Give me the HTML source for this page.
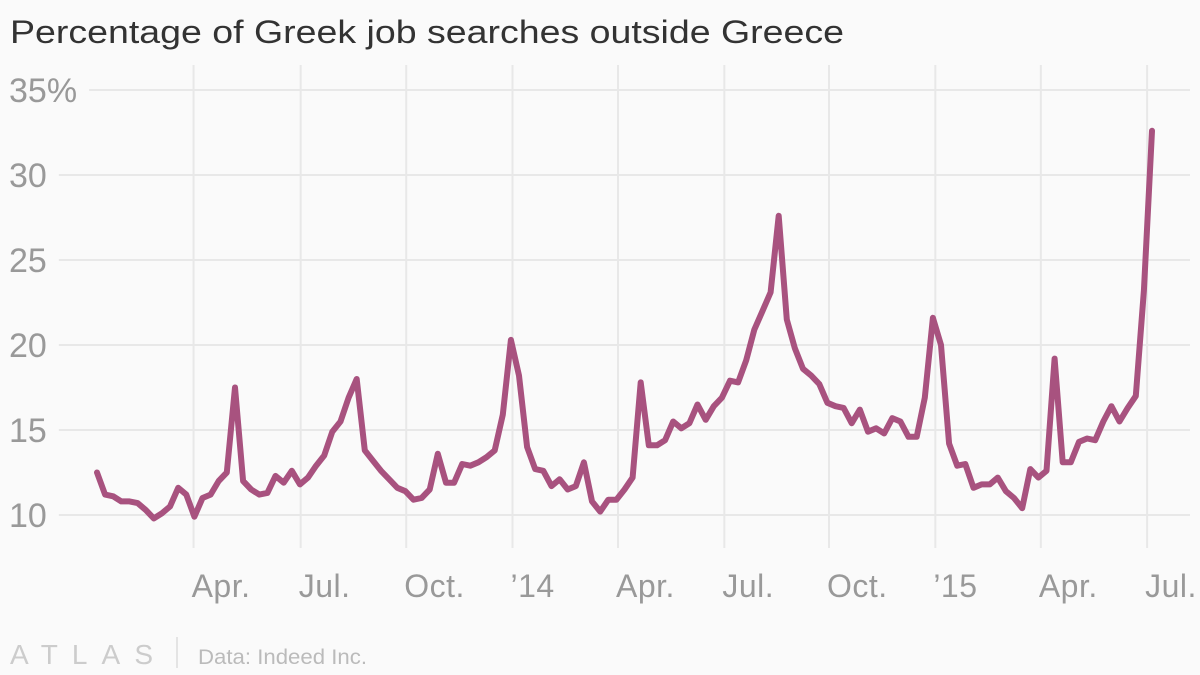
<!DOCTYPE html>
<html><head><meta charset="utf-8"><style>
body{margin:0;background:#fff;}
svg{display:block;font-family:"Liberation Sans",sans-serif;}
</style></head><body>
<svg width="1200" height="675" viewBox="0 0 1200 675">
<rect width="1200" height="675" fill="#fafafa"/>
<text x="10" y="43" font-size="32" fill="#333" textLength="834" lengthAdjust="spacingAndGlyphs">Percentage of Greek job searches outside Greece</text>
<g id="grid"></g>
<g id="xlabels"></g>
<g id="ylabels"></g>
<path id="line" fill="none" stroke="#a8527f" stroke-width="6" stroke-linejoin="round" stroke-linecap="round"/>
<text x="10" y="664" font-size="28" fill="#ccc" textLength="143" lengthAdjust="spacing" font-weight="300">ATLAS</text>
<line x1="177" y1="637" x2="177" y2="668" stroke="#ddd" stroke-width="1.5"/>
<text x="198" y="664" font-size="21" fill="#bbb" textLength="169" lengthAdjust="spacingAndGlyphs">Data: Indeed Inc.</text>
</svg>
<script>
const values=[12.5,11.2,11.1,10.8,10.8,10.7,10.3,9.8,10.1,10.5,
11.6,11.2,9.9,11.0,11.2,12.0,12.5,17.5,12.0,11.5,
11.2,11.3,12.3,11.9,12.6,11.8,12.2,12.9,13.5,14.9,
15.5,16.9,18.0,13.8,13.2,12.6,12.1,11.6,11.4,10.9,
11.0,11.5,13.6,11.9,11.9,13.0,12.9,13.1,13.4,13.8,
15.9,20.3,18.2,14.0,12.7,12.6,11.7,12.1,11.5,11.7,
13.1,10.8,10.2,10.9,10.9,11.5,12.2,17.8,14.1,14.1,
14.4,15.5,15.1,15.4,16.5,15.6,16.4,16.9,17.9,17.8,
19.1,20.9,22.0,23.1,27.6,21.5,19.8,18.6,18.2,17.7,
16.6,16.4,16.3,15.4,16.2,14.9,15.1,14.8,15.7,15.5,
14.6,14.6,16.9,21.6,20.0,14.2,12.9,13.0,11.6,11.8,
11.8,12.2,11.4,11.0,10.4,12.7,12.2,12.6,19.2,13.1,
13.1,14.3,14.5,14.4,15.5,16.4,15.5,16.3,17.0,23.2,
32.6];
const yTicks=[10,15,20,25,30,35];
const yTickLabels=["10","15","20","25","30","35%"];
const xTickLabels=["Apr.","Jul.","Oct.","\u201914","Apr.","Jul.","Oct.","\u201915","Apr.","Jul."];
const xTickIndex=[11.9,25.1,38.1,51.2,64.2,77.3,90.2,103.3,116.3,129.4];
const NS="http://www.w3.org/2000/svg";
const x=i=>97+i*(1152-97)/130;
const y=v=>515-(v-10)*17;
const grid=document.getElementById('grid'),xl=document.getElementById('xlabels'),yl=document.getElementById('ylabels');
xTickIndex.forEach((t,k)=>{
 const l=document.createElementNS(NS,'line');
 l.setAttribute('x1',x(t));l.setAttribute('x2',x(t));l.setAttribute('y1',65);l.setAttribute('y2',548);
 l.setAttribute('stroke','#e8e8e8');l.setAttribute('stroke-width','2');
 
 
 grid.appendChild(l);
 const tx=document.createElementNS(NS,'text');
 tx.setAttribute('x',x(t)-2);tx.setAttribute('y',597);tx.setAttribute('font-size','32');tx.setAttribute('fill','#999');
 tx.setAttribute('letter-spacing','0.5');
 tx.textContent=xTickLabels[k];
 
 
 xl.appendChild(tx);
});
yTicks.forEach((t,k)=>{
 const tx=document.createElementNS(NS,'text');
 tx.setAttribute('x',9);tx.setAttribute('y',y(t)+12);tx.setAttribute('font-size','34');tx.setAttribute('fill','#999');
 tx.textContent=yTickLabels[k];
 
 
 yl.appendChild(tx);
 const w=tx.getComputedTextLength();
 const l=document.createElementNS(NS,'line');
 l.setAttribute('x1',9+w+12);l.setAttribute('x2',1190);l.setAttribute('y1',y(t));l.setAttribute('y2',y(t));
 l.setAttribute('stroke','#e8e8e8');l.setAttribute('stroke-width','2');
 
 
 grid.appendChild(l);
});
document.getElementById('line').setAttribute('d',values.map((v,i)=>(i?'L':'M')+x(i).toFixed(1)+','+y(v).toFixed(1)).join(''));
</script>
</body></html>
